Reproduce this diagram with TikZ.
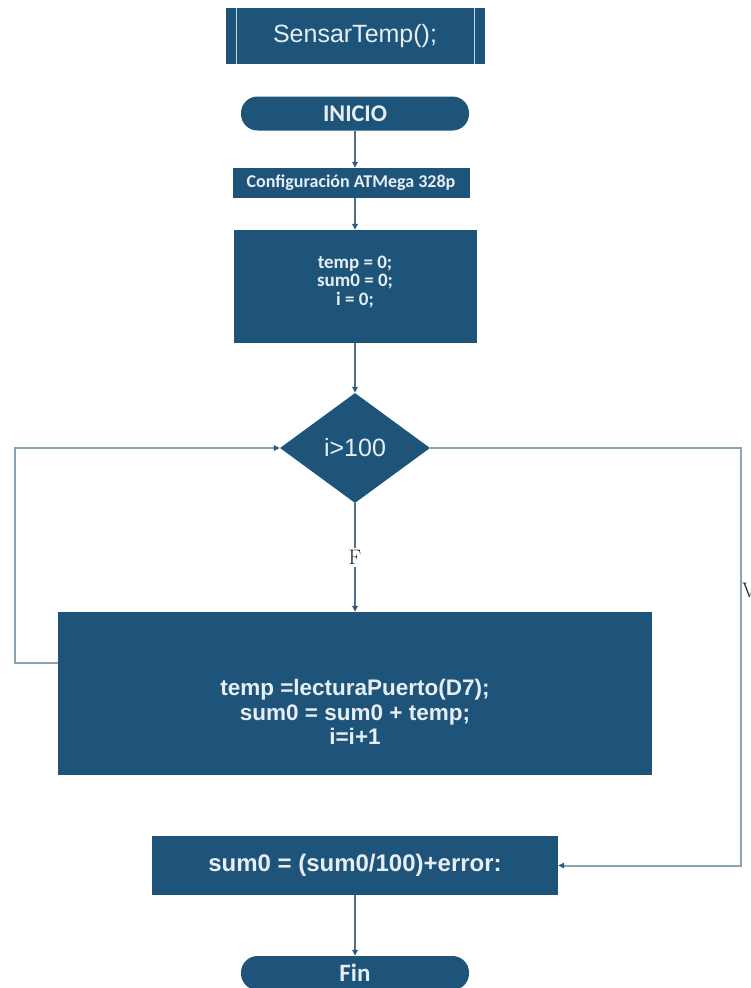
\documentclass[tikz,border=0pt]{standalone}
\usepackage{fontspec}
\newfontfamily\arialf{Liberation Sans}
\newfontfamily\calib{Carlito}
\usetikzlibrary{arrows.meta,shapes.geometric}
\definecolor{boxblue}{HTML}{1E5479}
\definecolor{txtw}{HTML}{E6EEF4}
\definecolor{linkc}{HTML}{4F6F89}
\definecolor{loopc}{HTML}{8AA3B5}
\definecolor{tipc}{HTML}{2B5B80}
\tikzset{
  blk/.style={rectangle, fill=boxblue, text=txtw, inner sep=0pt, align=center},
  term/.style={blk, rounded corners=16.5pt, minimum width=228pt, minimum height=34pt},
  decis/.style={diamond, fill=boxblue, text=txtw, inner sep=0pt, minimum width=150pt, minimum height=110pt},
  link/.style={draw=linkc, line width=1.5pt, -{Triangle[length=6pt,width=5.5pt,fill=tipc,color=tipc]}},
  back/.style={draw=loopc, line width=2pt, -{Triangle[length=6pt,width=5.5pt,fill=tipc,color=tipc]}},
  lbl/.style={font=\fontsize{21}{23}\selectfont, text=black!85, inner sep=2pt},
}
\begin{document}
\begin{tikzpicture}[x=1pt,y=-1pt]
\path[use as bounding box] (0,0) rectangle (750,988);
\clip (0,0) rectangle (750,988);

% subroutine header
\node[blk, minimum width=259pt, minimum height=56pt,
      font=\arialf\fontsize{25}{27}\selectfont] (sub) at (355,36) {SensarTemp();};
\draw[txtw!85!boxblue, line width=1pt] ([xshift=11pt]sub.north west) -- ([xshift=11pt]sub.south west);
\draw[txtw!85!boxblue, line width=1pt] ([xshift=-10pt]sub.north east) -- ([xshift=-10pt]sub.south east);

% main flow
\node[term, font=\calib\bfseries\fontsize{24}{26}\selectfont] (ini) at (355,113.5) {INICIO};
\node[blk, minimum width=237pt, minimum height=30pt,
      font=\calib\bfseries\fontsize{18}{20}\selectfont] (cfg) at (351,183) {Configuración ATMega 328p};
\node[blk, minimum width=243pt, minimum height=113pt] (init) at (355,286.5) {};
\node[text=txtw, align=center, inner sep=0pt,
      font=\calib\bfseries\fontsize{19}{18.5}\selectfont] (inittxt) at (355,282)
      {temp = 0;\\ sum0 = 0;\\ i = 0;};
\node[decis, font=\arialf\fontsize{25}{27}\selectfont] (dec) at (355,448) {i>100};
\node[blk, minimum width=594pt, minimum height=163pt] (body) at (355,693.5) {};
\node[text=txtw, align=center, inner sep=0pt,
      font=\arialf\bfseries\fontsize{22.5}{24.5}\selectfont] (bodytxt) at (355,712)
      {temp =lecturaPuerto(D7);\\ sum0 = sum0 + temp;\\ i=i+1};
\node[blk, minimum width=406pt, minimum height=59pt,
      font=\arialf\bfseries\fontsize{24}{26}\selectfont] (sumb) at (355,865.5)
      {sum0 = (sum0/100)+error:};
\node[term, font=\calib\bfseries\fontsize{25}{27}\selectfont] (fin) at (355,973) {Fin};

\coordinate (rgt) at (741,448);
\coordinate (lft) at (15,448);

% connectors
\draw[link] (ini) -- (cfg.north -| ini);
\draw[link] (cfg.south -| ini) -- (init);
\draw[link] (init) -- (dec);
\draw[link] (dec) -- node[lbl, fill=white] {F} (body);
\draw[back] ([yshift=30.5pt]body.west) -| (lft) -- (dec.west);
\draw[back] (dec.east) -- (rgt) |- (sumb.east);
\node[lbl, anchor=west, inner sep=0pt] (vlab) at (742,590) {V};
\draw[link] (sumb) -- (fin);
\end{tikzpicture}
\end{document}
